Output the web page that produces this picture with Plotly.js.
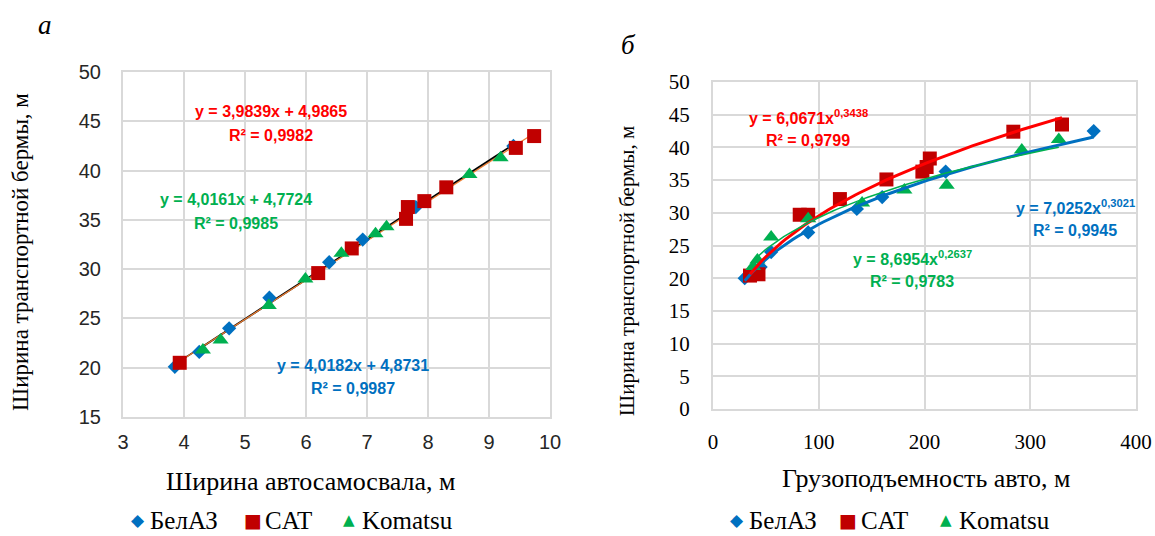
<!DOCTYPE html>
<html><head><meta charset="utf-8">
<script src="https://cdn.plot.ly/plotly-3.0.1.min.js"></script>
<style>html,body{margin:0;padding:0;background:#fff;overflow:hidden}#chart{width:1155px;height:536px}</style>
</head><body><div id="chart"></div>
<script>
// ---- Chart a: width of truck (m) vs berm width (m)
const belazWidthX = [3.85, 4.25, 4.74, 5.40, 6.38, 6.93, 7.80, 9.40];
const belazWidthY = [20.1, 21.6, 24.0, 27.1, 30.7, 33.0, 36.3, 42.5];
const catWidthX = [3.93, 6.20, 6.75, 7.64, 7.67, 7.94, 8.30, 9.44, 9.74];
const catWidthY = [20.5, 29.6, 32.1, 35.1, 36.3, 36.9, 38.3, 42.3, 43.5];
const komWidthX = [4.31, 4.60, 5.39, 5.99, 6.58, 7.14, 7.32, 8.68, 9.19];
const komWidthY = [21.8, 22.8, 26.3, 29.0, 31.6, 33.6, 34.3, 39.6, 41.3];
// linear trendline coefficients printed on chart a: [БелАЗ, CAT, Komatsu]
const linSlope = [4.0182, 3.9839, 4.0161];
const linIntercept = [4.8731, 4.9865, 4.7724];
const linEqText = ['y = 4,0182x + 4,8731', 'y = 3,9839x + 4,9865', 'y = 4,0161x + 4,7724'];
const linR2Text = ['R² = 0,9987', 'R² = 0,9982', 'R² = 0,9985'];

// ---- Chart б: payload vs berm width (m)
const belazLoadX = [30, 45, 55, 90, 136, 160, 220, 360];
const belazLoadY = [20.0, 21.7, 24.0, 27.0, 30.6, 32.4, 36.3, 42.5];
const catLoadX = [35, 43, 82, 90, 120, 164, 198, 202, 205, 284, 330];
const catLoadY = [20.4, 20.6, 29.7, 29.7, 32.1, 35.1, 36.3, 37.0, 38.3, 42.4, 43.5];
const komLoadX = [38, 42, 55, 90, 141, 181, 221, 292, 327];
const komLoadY = [21.8, 22.8, 26.3, 29.1, 31.5, 33.5, 34.2, 39.6, 41.2];
// power trendline coefficients printed on chart б: [БелАЗ, CAT, Komatsu]
const powCoef = [7.0252, 6.0671, 8.6954];
const powExp = [0.3021, 0.3438, 0.2637];
const powEqText = ['y = 7,0252x<sup>0,3021</sup>', 'y = 6,0671x<sup>0,3438</sup>', 'y = 8,6954x<sup>0,2637</sup>'];
const powR2Text = ['R² = 0,9945', 'R² = 0,9799', 'R² = 0,9783'];

const seriesNames = ['БелАЗ', 'CAT', 'Komatsu'];
const legendGlyphs = ['◆', '■', '▲'];
const xTicksA = [3, 4, 5, 6, 7, 8, 9, 10];
const yTicksA = [15, 20, 25, 30, 35, 40, 45, 50];
const xTicksB = [0, 100, 200, 300, 400];
const yTicksB = [0, 5, 10, 15, 20, 25, 30, 35, 40, 45, 50];

const colors = ['#0070C0', '#C00000', '#00B050'];
const symbols = ['diamond', 'square', 'triangle-up'];
const sizes = [11, 14, 14];
const labelColors = ['#0070C0', '#FF0000', '#00B050'];

function lineSpan(xs, n, f) {
  const lo = Math.min(...xs), hi = Math.max(...xs);
  const X = [], Y = [];
  for (let i = 0; i <= n; i++) { const x = lo + (hi - lo) * i / n; X.push(x); Y.push(f(x)); }
  return [X, Y];
}

const dataA = [[belazWidthX, belazWidthY], [catWidthX, catWidthY], [komWidthX, komWidthY]];
const dataB = [[belazLoadX, belazLoadY], [catLoadX, catLoadY], [komLoadX, komLoadY]];

const SERIF = 'Liberation Serif';
const SANS = 'Liberation Sans';
const W = 1155, H = 536;

const traces = [];
// linear trendlines (chart a)
const linColors = ['#000000', '#ED7D31', '#404040'];
const linWidths = [1.6, 1.2, 1];
[2, 0, 1].forEach(i => {
  const [X, Y] = lineSpan(dataA[i][0], 2, x => linSlope[i] * x + linIntercept[i]);
  traces.push({x: X, y: Y, xaxis: 'x', yaxis: 'y', mode: 'lines', showlegend: false, hoverinfo: 'skip',
    line: {color: linColors[i], width: linWidths[i]}});
});
// points chart a
[0, 1, 2].forEach(i => {
  traces.push({x: dataA[i][0], y: dataA[i][1], xaxis: 'x', yaxis: 'y', mode: 'markers', name: seriesNames[i],
    showlegend: false, cliponaxis: false,
    marker: {symbol: symbols[i], size: sizes[i], color: colors[i], line: {width: 0}}});
});
// points chart б
[0, 1, 2].forEach(i => {
  traces.push({x: dataB[i][0], y: dataB[i][1], xaxis: 'x2', yaxis: 'y2', mode: 'markers', name: seriesNames[i],
    showlegend: false, cliponaxis: false,
    marker: {symbol: symbols[i], size: sizes[i], color: colors[i], line: {width: 0}}});
});
// power trendlines (chart б)
const powColors = ['#0070C0', '#FF0000', '#00B050'];
const powWidths = [3, 3, 1.5];
[0, 1, 2].forEach(i => {
  const [X, Y] = lineSpan(dataB[i][0], 80, x => powCoef[i] * Math.pow(x, powExp[i]));
  traces.push({x: X, y: Y, xaxis: 'x2', yaxis: 'y2', mode: 'lines', showlegend: false, hoverinfo: 'skip',
    line: {color: powColors[i], width: powWidths[i]}});
});

const grid = '#d9d9d9';
const sansTick = {family: SANS, size: 20, color: '#262626'};
const serifTick = {family: SERIF, size: 21, color: '#000'};
function ax(extra) {
  return Object.assign({showgrid: true, gridcolor: grid, gridwidth: 2, showline: true, linecolor: grid, linewidth: 2,
    mirror: true, zeroline: false, ticks: 'outside', tickcolor: 'rgba(0,0,0,0)', fixedrange: true}, extra);
}

const annotations = [];
function txt(px, py, text, font, extra) {
  annotations.push(Object.assign({xref: 'paper', yref: 'paper', x: px / W, y: 1 - py / H, text: text,
    showarrow: false, font: font, xanchor: 'center', yanchor: 'middle'}, extra || {}));
}
const eqFont = c => ({family: SANS, size: 16, color: c});
const linLabelPos = [[353, 365], [271, 112], [236, 200]];
[0, 1, 2].forEach(i => {
  txt(linLabelPos[i][0], linLabelPos[i][1], '<b>' + linEqText[i] + '</b>', eqFont(labelColors[i]));
  txt(linLabelPos[i][0], linLabelPos[i][1] + 23, '<b>' + linR2Text[i] + '</b>', eqFont(labelColors[i]));
});
const powLabelPos = [[1075, 207], [808, 117], [912, 258]];
[0, 1, 2].forEach(i => {
  txt(powLabelPos[i][0], powLabelPos[i][1], '<b>' + powEqText[i] + '</b>', eqFont(labelColors[i]));
  txt(powLabelPos[i][0], powLabelPos[i][1] + 23, '<b>' + powR2Text[i] + '</b>', eqFont(labelColors[i]));
});
txt(20, 252, 'Ширина транспортной бермы, м', {family: SERIF, size: 23, color: '#000'}, {textangle: -90});
txt(627, 271, 'Ширина транспортной бермы, м', {family: SERIF, size: 21, color: '#000'}, {textangle: -90});
txt(311, 481, 'Ширина автосамосвала, м', {family: SERIF, size: 26, color: '#000'});
txt(926, 478, 'Грузоподъемность авто, м', {family: SERIF, size: 26, color: '#000'});
txt(45, 25, '<i>a</i>', {family: SERIF, size: 27, color: '#000'});
txt(628, 45, '<i>б</i>', {family: SERIF, size: 27, color: '#000'});

// legends (one under each chart): key glyph + series name, boxes kept inside the page
const legendKeyX = [[138, 253, 349], [737, 848, 946]];
const legendTextX = [[149, 264, 361], [748, 860, 958]];
const glyphSizes = [17, 19, 15];
[0, 1].forEach(c => {
  [0, 1, 2].forEach(i => {
    txt(legendKeyX[c][i], 520, legendGlyphs[i], {family: 'DejaVu Sans', size: glyphSizes[i], color: colors[i]});
    txt(legendTextX[c][i], H - 1, seriesNames[i], {family: SERIF, size: 25, color: '#000'},
      {xanchor: 'left', yanchor: 'bottom', borderpad: 0});
  });
});

const layout = {
  width: W, height: H, margin: {l: 0, r: 0, t: 0, b: 0},
  font: {family: SERIF, size: 20, color: '#000'},
  paper_bgcolor: '#fff', plot_bgcolor: '#fff', showlegend: false,
  xaxis: ax({domain: [123 / W, 550 / W], range: [3, 10], tickvals: xTicksA, anchor: 'y', tickfont: sansTick, ticklen: 6}),
  yaxis: ax({domain: [119 / H, 464 / H], range: [15, 50], tickvals: yTicksA, anchor: 'x', tickfont: sansTick, ticklen: 16}),
  xaxis2: ax({domain: [713 / W, 1136 / W], range: [0, 400], tickvals: xTicksB, anchor: 'y2', tickfont: serifTick, ticklen: 13}),
  yaxis2: ax({domain: [127 / H, 454 / H], range: [0, 50], tickvals: yTicksB, anchor: 'x2', tickfont: serifTick, ticklen: 17}),
  annotations: annotations
};
Plotly.newPlot('chart', traces, layout, {displayModeBar: false, staticPlot: true});
</script></body></html>
